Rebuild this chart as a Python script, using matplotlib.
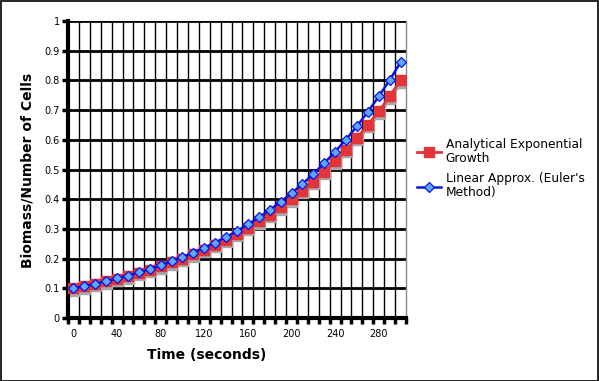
import matplotlib
matplotlib.use("Agg")
import matplotlib.pyplot as plt
from matplotlib.patches import Rectangle
from matplotlib.transforms import offset_copy
import numpy as np

time_s = [0, 10, 20, 30, 40, 50, 60, 70, 80, 90, 100, 110, 120, 130, 140, 150,
          160, 170, 180, 190, 200, 210, 220, 230, 240, 250, 260, 270, 280, 290, 300]
analytical = [0.100, 0.107, 0.115, 0.123, 0.132, 0.141, 0.152, 0.162, 0.174, 0.187,
              0.200, 0.214, 0.230, 0.246, 0.264, 0.283, 0.303, 0.325, 0.348, 0.373,
              0.400, 0.429, 0.459, 0.492, 0.528, 0.566, 0.606, 0.650, 0.696, 0.746, 0.800]
euler = [0.100, 0.107, 0.115, 0.124, 0.133, 0.143, 0.154, 0.165, 0.177, 0.191,
         0.205, 0.220, 0.237, 0.254, 0.273, 0.293, 0.315, 0.339, 0.364, 0.391,
         0.420, 0.451, 0.485, 0.521, 0.560, 0.601, 0.646, 0.694, 0.746, 0.801, 0.861]
xtick_labels = ["0", "40", "80", "120", "160", "200", "240", "280"]
ytick_labels = ["0", "0.1", "0.2", "0.3", "0.4", "0.5", "0.6", "0.7", "0.8", "0.9", "1"]

W, H = 599, 381
fig = plt.figure(figsize=(W / 100, H / 100), dpi=100)
ax = fig.add_axes([68 / W, 1 - 318 / H, (406 - 68) / W, (318 - 21) / H])

n = len(time_s)
pos = np.arange(n)

# grid
for k in range(n - 1):
    ax.axvline(k + 0.5, color="black", lw=1.0, zorder=1)
yt = np.linspace(0, 1, len(ytick_labels))
for y in yt[1:]:
    ax.axhline(y, color="black", lw=2.0, zorder=1)

red = "#e3343a"
shadow_tr = offset_copy(ax.transData, fig=fig, x=0.8, y=-2.4, units="dots")
ax.plot(pos, analytical, color="#a8a8a8", lw=2.0, marker="s", markersize=7.5,
        markerfacecolor="#a8a8a8", markeredgecolor="#a8a8a8", zorder=2,
        transform=shadow_tr)
l1, = ax.plot(pos, analytical, color=red, lw=2.0, marker="s", markersize=7.5,
              markerfacecolor=red, markeredgecolor=red, zorder=3,
              label="Analytical Exponential\nGrowth")
l2, = ax.plot(pos, euler, color="#0a14e0", lw=1.8, marker="D", markersize=5.2,
              markerfacecolor="#5ea6ff", markeredgecolor="#0a14e0", markeredgewidth=0.9,
              zorder=4, label="Linear Approx. (Euler's\nMethod)")

ax.set_xlim(-0.5, n - 0.5)
ax.set_ylim(0, 1)

ax.set_xticks(pos[::4])
ax.set_xticklabels(xtick_labels, fontsize=7)
ax.set_xticks(np.arange(n + 1) - 0.5, minor=True)
ax.tick_params(axis="x", which="major", length=0, pad=8)
ax.tick_params(axis="x", which="minor", length=4, width=2.5, direction="out")
ax.set_yticks(yt)
ax.set_yticklabels(ytick_labels, fontsize=7)
ax.tick_params(axis="y", which="major", length=4, width=2.5, direction="out", pad=2)

ax.spines["top"].set_visible(False)
ax.spines["right"].set_color("#888888")
ax.spines["right"].set_linewidth(1.0)
ax.spines["left"].set_linewidth(3.0)
ax.spines["bottom"].set_linewidth(3.0)

fig.text(207 / W, 1 - 355 / H, "Time (seconds)", fontsize=10, fontweight="bold",
         ha="center", va="center")
fig.text(28 / W, 1 - 170 / H, "Biomass/Number of Cells", fontsize=10, fontweight="bold",
         ha="center", va="center", rotation=90)

leg = fig.legend(handles=[l1, l2], loc="upper left", bbox_to_anchor=(417 / W, 1 - 138 / H),
                 frameon=False, fontsize=8.8, handlelength=2.0, handletextpad=0.35,
                 labelspacing=0.6, borderaxespad=0, borderpad=0)
for t in leg.get_texts():
    t.set_linespacing(1.1)

fig.patches.append(Rectangle((0.5 / W, 0.5 / H), 1 - 1.5 / W, 1 - 1.5 / H,
                             transform=fig.transFigure, fill=False, edgecolor="black", lw=1.2))

fig.savefig("out.png", dpi=100)
